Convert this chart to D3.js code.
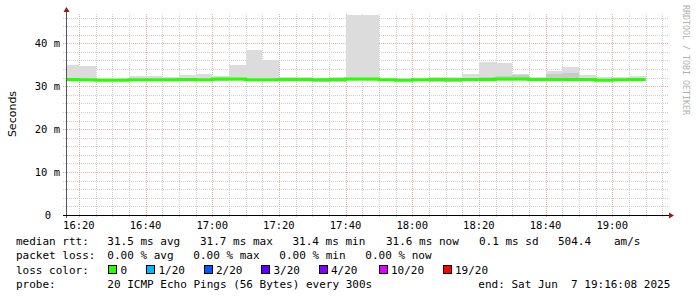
<!DOCTYPE html>
<html><head><meta charset="utf-8">
<script src="https://cdn.jsdelivr.net/npm/d3@7/dist/d3.min.js"></script>
<style>
html,body{margin:0;padding:0;background:#fff;}
svg{display:block;}
text{white-space:pre;}
</style></head><body>
<svg id="chart" width="697" height="297"></svg>
<script>
// ---- data ----
const graphStart = "2025-06-07 16:16:08";
const graphEnd = "2025-06-07 19:16:08";
const intervalEnds = ["16:20","16:25","16:30","16:35","16:40","16:45","16:50","16:55","17:00","17:05",
  "17:10","17:15","17:20","17:25","17:30","17:35","17:40","17:45","17:50","17:55",
  "18:00","18:05","18:10","18:15","18:20","18:25","18:30","18:35","18:40","18:45",
  "18:50","18:55","19:00","19:05","19:10"];
const medianMs = [31.6,31.5,31.4,31.4,31.5,31.5,31.5,31.6,31.5,31.7,
  31.7,31.5,31.5,31.6,31.6,31.5,31.6,31.7,31.7,31.5,
  31.4,31.5,31.6,31.5,31.6,31.6,31.7,31.7,31.6,31.6,
  31.6,31.6,31.4,31.5,31.6];
const smokeLo = [31.3,31.3,31.3,31.3,31.3,31.3,31.3,31.3,31.3,31.2,
  31.3,31.3,31.3,31.3,31.3,31.1,31.1,31.3,31.3,31.3,
  31.3,31.3,31.05,31.05,31.3,31.3,31.3,31.3,31.3,31.3,
  31.3,31.3,31.3,31.3,31.3];
const smokeHi = [35.0,34.8,31.9,31.9,32.4,32.4,32.1,32.6,32.9,32.4,
  35.0,38.5,36.1,32.1,32.1,32.0,32.1,46.6,46.6,32.0,
  31.8,31.8,32.2,32.2,32.9,35.7,35.4,32.9,32.2,33.6,
  34.5,32.6,32.2,32.2,32.5];
const innerLo = [31.4,31.3,31.2,31.2,31.3,31.3,31.3,31.4,31.3,31.2,
  31.5,31.3,31.3,31.4,31.4,31.1,31.1,31.5,31.5,31.3,
  31.2,31.3,31.1,31.1,31.4,31.4,31.5,31.5,31.4,31.4,
  31.4,31.4,31.2,31.3,31.4];
const innerHi = [31.8,31.7,31.6,31.6,31.7,31.7,31.7,31.8,31.7,31.9,
  31.9,31.7,31.7,31.8,31.8,31.8,31.9,31.9,31.9,31.7,
  31.6,31.7,31.9,31.9,31.8,32.1,32.4,32.6,31.8,32.9,
  33.2,31.8,31.6,31.7,31.8];
const yMax = 46.6;
const yTicks = [0,10,20,30,40];
const yTickLabels = ["0","10 m","20 m","30 m","40 m"];
const lossLabels = ["0","1/20","2/20","3/20","4/20","10/20","19/20"];
const lossColors = ["#26ff00","#00b8ff","#0059ff","#5e00ff","#7e00ff","#dd00ff","#ff0000"];
const legendLine1 = ["median rtt:","31.5 ms avg","31.7 ms max","31.4 ms min","31.6 ms now","0.1 ms sd","504.4","am/s"];
const legendLine2 = ["packet loss:","0.00 % avg","0.00 % max","0.00 % min","0.00 % now"];
const legendLine4 = ["probe:","20 ICMP Echo Pings (56 Bytes) every 300s","end: Sat Jun  7 19:16:08 2025"];

// ---- layout ----
const svg = d3.select("#chart");
const L = 66, R = 666, T = 15, B = 215;
const parseFull = d3.timeParse("%Y-%m-%d %H:%M:%S");
const parseHM = s => parseFull("2025-06-07 " + s + ":00");
const t0 = parseFull(graphStart), t1 = parseFull(graphEnd);
const x = d3.scaleTime().domain([t0, t1]).range([L, R]);
const y = d3.scaleLinear().domain([0, yMax]).range([B, T]);
const mono = '"DejaVu Sans Mono", monospace';

svg.append("rect").attr("width",697).attr("height",297).attr("fill","#fff");

// grid
const grid = svg.append("g").attr("shape-rendering","crispEdges");
const minorX = d3.timeMinute.every(5).range(t0, t1);
minorX.forEach(d => {
  const major = d.getMinutes() % 20 === 0;
  const px = Math.round(x(d)) + 0.5;
  grid.append("line").attr("x1",px).attr("x2",px).attr("y1",T-1).attr("y2",B+3)
    .attr("stroke", major ? "#eeaaaa" : "#d0d0d0").attr("stroke-dasharray","1,1");
});
d3.range(2, yMax, 2).forEach(v => {
  const major = v % 10 === 0;
  const py = Math.round(y(v)) + 0.5;
  grid.append("line").attr("x1",L-3).attr("x2",R+2).attr("y1",py).attr("y2",py)
    .attr("stroke", major ? "#eeaaaa" : "#d0d0d0").attr("stroke-dasharray","1,1");
});

// smoke
const bars = svg.append("g").attr("shape-rendering","crispEdges");
intervalEnds.forEach((e, i) => {
  const te = parseHM(e);
  const ts = d3.timeMinute.offset(te, -5);
  const xa = Math.max(x(ts), x(t0)), xb = x(te);
  bars.append("rect").attr("x", xa).attr("width", xb - xa)
    .attr("y", y(smokeHi[i])).attr("height", y(smokeLo[i]) - y(smokeHi[i])).attr("fill","#dcdcdc");
  bars.append("rect").attr("x", xa).attr("width", xb - xa)
    .attr("y", y(innerHi[i])).attr("height", y(innerLo[i]) - y(innerHi[i])).attr("fill","#c9c9c9");
});

// median line
const pts = intervalEnds.map((e, i) => {
  const ts = d3.timeMinute.offset(parseHM(e), -5);
  return [Math.max(x(ts), x(t0)), y(medianMs[i])];
});
pts.push([x(parseHM(intervalEnds[intervalEnds.length-1])), y(medianMs[medianMs.length-1])]);
svg.append("path").attr("d", d3.line().curve(d3.curveStepAfter)(pts))
  .attr("fill","none").attr("stroke", lossColors[0]).attr("stroke-width",3);

// axes
svg.append("line").attr("x1",L+0.5).attr("x2",L+0.5).attr("y1",B+3).attr("y2",10)
  .attr("stroke","#555").attr("shape-rendering","crispEdges");
svg.append("line").attr("x1",L-3).attr("x2",669).attr("y1",B+0.5).attr("y2",B+0.5)
  .attr("stroke","#000").attr("shape-rendering","crispEdges");
svg.append("path").attr("d",`M${L+0.5},7 L${L+3.5},12 L${L-2.5},12 Z`).attr("fill","#a01515");
svg.append("path").attr("d",`M674,${B+0.5} L669,${B-2.5} L669,${B+3.5} Z`).attr("fill","#a01515");

// y tick labels
yTicks.forEach((v, i) => {
  svg.append("text").attr("x", v === 0 ? 51 : 60).attr("y", Math.round(y(v)) + 4)
    .attr("text-anchor","end").attr("font-family",mono).attr("font-size","10.5px")
    .attr("fill","#000").text(yTickLabels[i]);
});
// x tick labels
d3.timeMinute.every(20).range(t0, t1).forEach(d => {
  svg.append("text").attr("x", x(d)).attr("y", 229).attr("text-anchor","middle")
    .attr("font-family",mono).attr("font-size","10.5px").attr("fill","#000")
    .text(d3.timeFormat("%H:%M")(d));
});

// titles
svg.append("text").attr("transform","translate(15.5,114) rotate(-90)").attr("text-anchor","middle")
  .attr("font-family","DejaVu Sans, sans-serif").attr("font-size","11px").attr("fill","#000").text("Seconds");
svg.append("text").attr("transform","translate(683,5) rotate(90)")
  .attr("font-family",mono).attr("font-size","8.3px").attr("fill","#b0b0b0").text("RRDTOOL / TOBI OETIKER");

// legend
const lg = svg.append("g").attr("font-family",mono).attr("font-size","11px").attr("fill","#000");
const l1x = [16,107.3,200,292.5,386,479,558,614];
legendLine1.forEach((s,i) => lg.append("text").attr("x",l1x[i]).attr("y",245).text(s));
const l2x = [16,107.3,193.3,279.3,365.3];
legendLine2.forEach((s,i) => lg.append("text").attr("x",l2x[i]).attr("y",259.3).text(s));
lg.append("text").attr("x",16).attr("y",273.6).text("loss color:");
const boxX = [108,146,203.5,261,318.5,378.5,442.5];
lossLabels.forEach((s,i) => {
  lg.append("rect").attr("x",boxX[i]+0.5).attr("y",265.5).attr("width",8).attr("height",8)
    .attr("fill",lossColors[i]).attr("stroke","#000").attr("shape-rendering","crispEdges");
  lg.append("text").attr("x",boxX[i]+12.5).attr("y",273.6).text(s);
});
const l4x = [16,107.3,478.3];
legendLine4.forEach((s,i) => lg.append("text").attr("x",l4x[i]).attr("y",287.9).text(s));
</script>
</body></html>
